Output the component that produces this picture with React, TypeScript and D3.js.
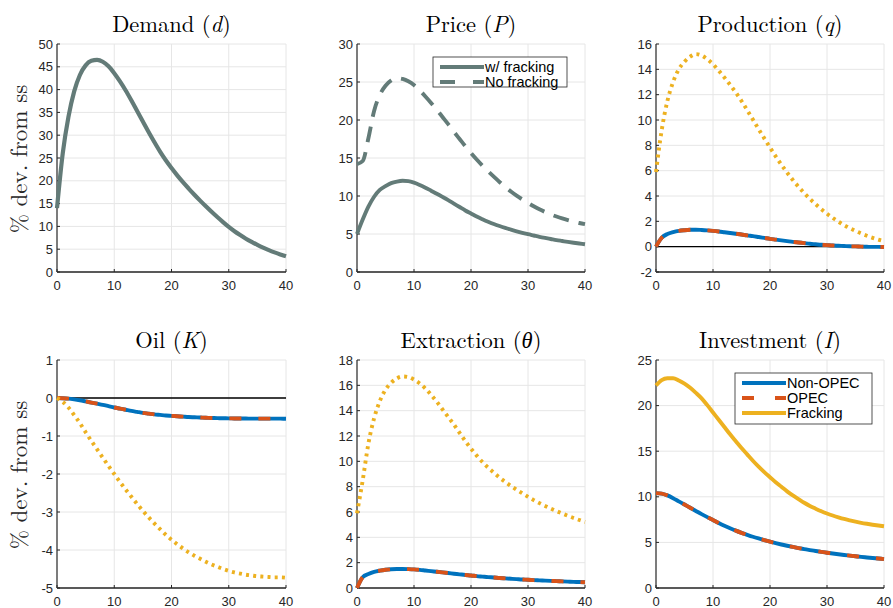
import React from "react";
import * as d3 from "d3";

const T = d3.range(0, 41);

const demand = [14, 26, 34, 39.6, 43.2, 45.3, 46.3, 46.5, 46.1, 45.1, 43.6, 41.8, 39.8, 37.6, 35.3, 33.0, 30.7, 28.5, 26.4, 24.5, 22.8, 21.2, 19.7, 18.3, 16.95, 15.65, 14.4, 13.2, 12.05, 10.95, 9.9, 8.95, 8.1, 7.3, 6.6, 5.95, 5.35, 4.8, 4.3, 3.85, 3.45];

const priceFrack = [5, 6.9, 8.6, 9.9, 10.8, 11.3, 11.7, 11.9, 12, 11.95, 11.75, 11.45, 11.1, 10.7, 10.3, 9.88, 9.45, 9.0, 8.55, 8.1, 7.7, 7.3, 6.95, 6.62, 6.32, 6.05, 5.8, 5.57, 5.36, 5.16, 4.97, 4.8, 4.63, 4.48, 4.34, 4.2, 4.08, 3.96, 3.85, 3.75, 3.65];
const priceNoFrack = [14.2, 14.6, 17.6, 21.2, 23.3, 24.5, 25.2, 25.5, 25.4, 25.1, 24.6, 23.9, 23.1, 22.25, 21.35, 20.4, 19.45, 18.45, 17.5, 16.55, 15.65, 14.8, 14.0, 13.25, 12.55, 11.85, 11.2, 10.6, 10.05, 9.55, 9.08, 8.65, 8.25, 7.9, 7.58, 7.3, 7.05, 6.83, 6.63, 6.45, 6.3];

const prodNonOpec = [0, 0.7, 1.0, 1.15, 1.25, 1.3, 1.33, 1.34, 1.32, 1.29, 1.25, 1.2, 1.14, 1.08, 1.02, 0.96, 0.89, 0.83, 0.76, 0.69, 0.62, 0.56, 0.5, 0.44, 0.38, 0.33, 0.28, 0.23, 0.19, 0.15, 0.12, 0.09, 0.07, 0.05, 0.03, 0.02, 0.0, -0.01, -0.02, -0.02, -0.03];
const prodOpec = [0, 0.7, 1.0, 1.15, 1.25, 1.3, 1.33, 1.34, 1.32, 1.29, 1.25, 1.2, 1.14, 1.08, 1.02, 0.96, 0.89, 0.83, 0.76, 0.69, 0.62, 0.56, 0.5, 0.44, 0.38, 0.33, 0.28, 0.23, 0.19, 0.15, 0.12, 0.09, 0.07, 0.05, 0.03, 0.02, 0.0, -0.01, -0.02, -0.02, -0.03];
const prodFrack = [5.9, 9.2, 11.5, 13.0, 14.0, 14.6, 15.0, 15.2, 15.1, 14.8, 14.4, 13.9, 13.35, 12.78, 12.17, 11.5, 10.78, 10.03, 9.28, 8.55, 7.83, 7.13, 6.47, 5.85, 5.27, 4.73, 4.23, 3.77, 3.35, 2.96, 2.6, 2.27, 1.97, 1.7, 1.46, 1.24, 1.04, 0.86, 0.7, 0.56, 0.44];

const oilNonOpec = [0, -0.005, -0.015, -0.035, -0.06, -0.09, -0.12, -0.15, -0.18, -0.215, -0.25, -0.28, -0.31, -0.34, -0.365, -0.39, -0.41, -0.43, -0.445, -0.46, -0.47, -0.48, -0.49, -0.5, -0.507, -0.514, -0.52, -0.525, -0.53, -0.533, -0.536, -0.538, -0.54, -0.541, -0.542, -0.543, -0.543, -0.544, -0.544, -0.544, -0.545];
const oilOpec = [0, -0.005, -0.015, -0.035, -0.06, -0.09, -0.12, -0.15, -0.18, -0.215, -0.25, -0.28, -0.31, -0.34, -0.365, -0.39, -0.41, -0.43, -0.445, -0.46, -0.47, -0.48, -0.49, -0.5, -0.507, -0.514, -0.52, -0.525, -0.53, -0.533, -0.536, -0.538, -0.54, -0.541, -0.542, -0.543, -0.543, -0.544, -0.544, -0.544, -0.545];
const oilFrack = [0, -0.1, -0.25, -0.45, -0.66, -0.9, -1.13, -1.35, -1.57, -1.79, -2.0, -2.21, -2.41, -2.6, -2.79, -2.97, -3.14, -3.3, -3.45, -3.6, -3.73, -3.85, -3.96, -4.06, -4.15, -4.23, -4.31, -4.38, -4.44, -4.5, -4.55, -4.59, -4.62, -4.65, -4.67, -4.69, -4.7, -4.71, -4.72, -4.72, -4.73];

const extNonOpec = [0, 0.85, 1.1, 1.27, 1.37, 1.44, 1.48, 1.5, 1.5, 1.49, 1.47, 1.43, 1.38, 1.33, 1.28, 1.23, 1.18, 1.13, 1.08, 1.03, 0.99, 0.94, 0.9, 0.86, 0.83, 0.79, 0.76, 0.73, 0.7, 0.67, 0.65, 0.62, 0.6, 0.58, 0.56, 0.54, 0.52, 0.5, 0.48, 0.47, 0.45];
const extOpec = [0, 0.85, 1.1, 1.27, 1.37, 1.44, 1.48, 1.5, 1.5, 1.49, 1.47, 1.43, 1.38, 1.33, 1.28, 1.23, 1.18, 1.13, 1.08, 1.03, 0.99, 0.94, 0.9, 0.86, 0.83, 0.79, 0.76, 0.73, 0.7, 0.67, 0.65, 0.62, 0.6, 0.58, 0.56, 0.54, 0.52, 0.5, 0.48, 0.47, 0.45];
const extFrack = [5.9, 8.5, 11.4, 13.4, 14.75, 15.65, 16.2, 16.55, 16.7, 16.65, 16.45, 16.15, 15.75, 15.25, 14.7, 14.1, 13.5, 12.9, 12.25, 11.6, 11.0, 10.45, 9.95, 9.5, 9.1, 8.72, 8.38, 8.06, 7.76, 7.48, 7.2, 6.94, 6.7, 6.48, 6.27, 6.07, 5.88, 5.7, 5.53, 5.37, 5.22];

const invNonOpec = [10.4, 10.35, 10.15, 9.85, 9.5, 9.15, 8.8, 8.45, 8.1, 7.77, 7.45, 7.13, 6.83, 6.55, 6.29, 6.05, 5.83, 5.62, 5.43, 5.25, 5.08, 4.92, 4.77, 4.63, 4.5, 4.38, 4.27, 4.16, 4.06, 3.96, 3.87, 3.78, 3.7, 3.62, 3.55, 3.48, 3.41, 3.35, 3.29, 3.23, 3.17];
const invOpec = [10.4, 10.35, 10.15, 9.85, 9.5, 9.15, 8.8, 8.45, 8.1, 7.77, 7.45, 7.13, 6.83, 6.55, 6.29, 6.05, 5.83, 5.62, 5.43, 5.25, 5.08, 4.92, 4.77, 4.63, 4.5, 4.38, 4.27, 4.16, 4.06, 3.96, 3.87, 3.78, 3.7, 3.62, 3.55, 3.48, 3.41, 3.35, 3.29, 3.23, 3.17];
const invFrack = [22.2, 22.8, 23.0, 23.0, 22.75, 22.4, 21.95, 21.4, 20.8, 20.05, 19.25, 18.45, 17.65, 16.85, 16.1, 15.35, 14.65, 13.95, 13.3, 12.7, 12.15, 11.6, 11.1, 10.6, 10.15, 9.75, 9.35, 9.0, 8.7, 8.42, 8.17, 7.95, 7.75, 7.57, 7.42, 7.28, 7.15, 7.04, 6.94, 6.85, 6.77];

const xTicks = [0, 10, 20, 30, 40];

const GRAY = "#637b78";
const BLUE = "#0072BD";
const ORANGE = "#D95319";
const YELLOW = "#EDB120";

type Series = { values: number[]; color: string; dash?: string; width?: number };
type Panel = {
  title: string;
  sym: string;
  col: number;
  row: number;
  yDomain: [number, number];
  yTicks: number[];
  series: Series[];
  zero?: boolean;
  ylabel?: boolean;
  legend?: { label: string; color: string; dash?: string }[];
  legendBox?: [number, number, number, number];
};

const COLS: [number, number][] = [[57, 286], [357, 585], [656, 884]];
const ROWS: [number, number][] = [[44, 272], [360, 588]];

const DASH_LINE = "12 17";
const DOT = "3 4.2";
const LW = 3.9;

const panels: Panel[] = [
  { title: "Demand ", sym: "d", col: 0, row: 0, yDomain: [0, 50], yTicks: d3.range(0, 51, 5), ylabel: true,
    series: [{ values: demand, color: GRAY, width: 4.2 }] },
  { title: "Price ", sym: "P", col: 1, row: 0, yDomain: [0, 30], yTicks: d3.range(0, 31, 5),
    series: [{ values: priceFrack, color: GRAY }, { values: priceNoFrack, color: GRAY, dash: "16 10" }],
    legend: [{ label: "w/ fracking", color: GRAY }, { label: "No fracking", color: GRAY, dash: "15 18" }],
    legendBox: [433, 57, 134, 30] },
  { title: "Production ", sym: "q", col: 2, row: 0, yDomain: [-2, 16], yTicks: d3.range(-2, 17, 2), zero: true,
    series: [{ values: prodNonOpec, color: BLUE }, { values: prodOpec, color: ORANGE, dash: DASH_LINE }, { values: prodFrack, color: YELLOW, dash: DOT }] },
  { title: "Oil ", sym: "K", col: 0, row: 1, yDomain: [-5, 1], yTicks: d3.range(-5, 2, 1), zero: true, ylabel: true,
    series: [{ values: oilNonOpec, color: BLUE }, { values: oilOpec, color: ORANGE, dash: DASH_LINE }, { values: oilFrack, color: YELLOW, dash: DOT }] },
  { title: "Extraction ", sym: "θ", col: 1, row: 1, yDomain: [0, 18], yTicks: d3.range(0, 19, 2),
    series: [{ values: extNonOpec, color: BLUE }, { values: extOpec, color: ORANGE, dash: DASH_LINE }, { values: extFrack, color: YELLOW, dash: DOT }] },
  { title: "Investment ", sym: "I", col: 2, row: 1, yDomain: [0, 25], yTicks: d3.range(0, 26, 5),
    series: [{ values: invNonOpec, color: BLUE }, { values: invOpec, color: ORANGE, dash: DASH_LINE }, { values: invFrack, color: YELLOW }],
    legend: [{ label: "Non-OPEC", color: BLUE }, { label: "OPEC", color: ORANGE, dash: "12 21" }, { label: "Fracking", color: YELLOW }],
    legendBox: [735, 373, 137, 51] },
];

const TICK_FONT = "'Liberation Sans', Arial, Helvetica, sans-serif";
const SERIF = "'Latin Modern Roman', 'CMU Serif', 'Liberation Serif', serif";

function PanelView({ p }: { p: Panel }) {
  const [x0, x1] = COLS[p.col];
  const [y0, y1] = ROWS[p.row];
  const x = d3.scaleLinear().domain([0, 40]).range([x0, x1]);
  const y = d3.scaleLinear().domain(p.yDomain).range([y1, y0]);
  const line = d3
    .line<number>()
    .x((_, i) => x(T[i]))
    .y((v) => y(v))
    .curve(d3.curveMonotoneX);
  const cx = (x0 + x1) / 2;
  return (
    <g>
      {xTicks.map((t) => (
        <line key={"gx" + t} x1={x(t)} x2={x(t)} y1={y0} y2={y1} stroke="#e6e6e6" strokeWidth={1} />
      ))}
      {p.yTicks.map((t) => (
        <line key={"gy" + t} x1={x0} x2={x1} y1={y(t)} y2={y(t)} stroke="#e6e6e6" strokeWidth={1} />
      ))}
      <line x1={x0} x2={x1} y1={y1} y2={y1} stroke="#262626" strokeWidth={1.5} />
      <line x1={x0} x2={x0} y1={y0} y2={y1} stroke="#555" strokeWidth={1.5} />
      {xTicks.map((t) => (
        <line key={"tx" + t} x1={x(t)} x2={x(t)} y1={y1} y2={y1 - 3} stroke="#262626" strokeWidth={1} />
      ))}
      {p.yTicks.map((t) => (
        <line key={"ty" + t} x1={x0} x2={x0 + 3} y1={y(t)} y2={y(t)} stroke="#262626" strokeWidth={1} />
      ))}
      {xTicks.map((t) => (
        <text key={"lx" + t} x={x(t)} y={y1 + 17.5} textAnchor="middle" fontSize={13} fontFamily={TICK_FONT} fill="#262626">
          {t}
        </text>
      ))}
      {p.yTicks.map((t) => (
        <text key={"ly" + t} x={x0 - 4} y={y(t) + 4.5} textAnchor="end" fontSize={13} fontFamily={TICK_FONT} fill="#262626">
          {t}
        </text>
      ))}
      {p.zero && <line x1={x0} x2={x1} y1={y(0)} y2={y(0)} stroke="#000" strokeWidth={1.3} />}
      {p.series.map((s, i) => (
        <path key={"s" + i} d={line(s.values) || ""} fill="none" stroke={s.color} strokeWidth={s.width ?? LW}
          strokeDasharray={s.dash} strokeLinecap="butt" strokeLinejoin="round" />
      ))}
      <text x={cx} y={y0 - 12} textAnchor="middle" fontSize={22.5} fontFamily={SERIF} fill="#000">
        {p.title}(<tspan fontStyle="italic">{p.sym}</tspan>)
      </text>
      {p.ylabel && (
        <text transform={`translate(${27},${(y0 + y1) / 2 + 1}) rotate(-90)`} textAnchor="middle" fontSize={23} fontFamily={SERIF} fill="#262626">
          % dev. from ss
        </text>
      )}
      {p.legend && p.legendBox && (
        <g>
          <rect x={p.legendBox[0]} y={p.legendBox[1]} width={p.legendBox[2]} height={p.legendBox[3]} fill="#fff" stroke="#262626" strokeWidth={0.8} />
          {p.legend.map((l, i) => {
            const ly = p.legendBox![1] + 10 + i * 15;
            const lx = p.legendBox![0] + 7;
            return (
              <g key={"lg" + i}>
                <line x1={lx} x2={lx + 44} y1={ly} y2={ly} stroke={l.color} strokeWidth={LW} strokeDasharray={l.dash} />
                <text x={lx + 45} y={ly + 5} fontSize={14.5} fontFamily={TICK_FONT} fill="#000">
                  {l.label}
                </text>
              </g>
            );
          })}
        </g>
      )}
    </g>
  );
}

export default function App() {
  return (
    <svg width={893} height={608} style={{ position: "absolute", left: 0, top: 0, background: "#fff" }}>
      <rect width={893} height={608} fill="#fff" />
      {panels.map((p, i) => (
        <PanelView key={i} p={p} />
      ))}
    </svg>
  );
}
